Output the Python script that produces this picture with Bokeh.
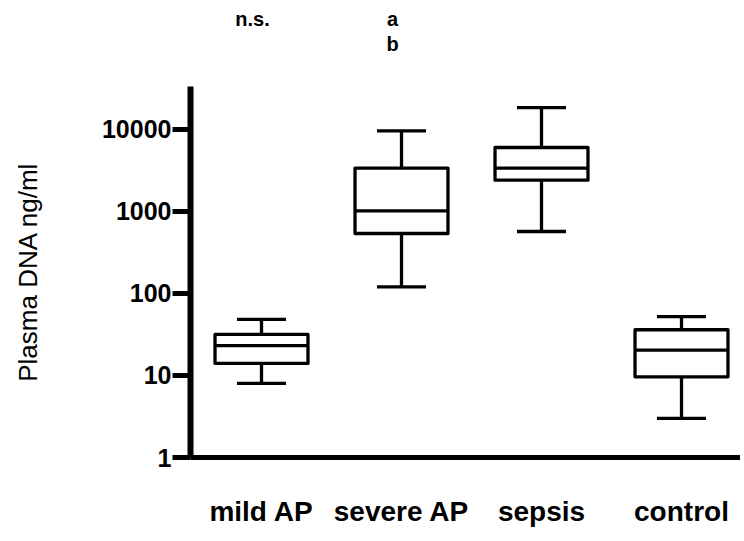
from bokeh.plotting import figure
from bokeh.layouts import column
from bokeh.models import FixedTicker, Range1d, ColumnDataSource
from bokeh.core.properties import value
from bokeh.embed import file_html
from bokeh.resources import INLINE

# ---- data ----
groups = ["mild AP", "severe AP", "sepsis", "control"]
lower_whisker = [8.0, 120.0, 566.0, 3.0]
q1 = [14.0, 535.0, 2390.0, 9.6]
median = [23.0, 1010.0, 3350.0, 20.3]
q3 = [31.6, 3350.0, 5970.0, 36.0]
upper_whisker = [48.0, 9500.0, 18300.0, 52.0]
y_ticks = [1, 10, 100, 1000, 10000]
y_tick_labels = ["1", "10", "100", "1000", "10000"]
annotations = ["n.s.", "a", "b"]
annotation_group = [1, 2, 2]

# ---- layout constants ----
W, H = 740, 535
TOP_H = 86                 # strip above the axes holding the annotations
FRAME_LEFT = 190
PX_PER_DECADE = 82.1
annotation_from_top_px = [18, 18, 43]

xs = list(range(1, len(groups) + 1))
BOX_W = 0.664
CAP_W = 0.35
LW = 3.3
FONT = "Liberation Sans"

x_range = Range1d(1 - 71 / 140, 1 - 71 / 140 + (W - FRAME_LEFT) / 140)
FRAME_H = 457 - TOP_H
y_end = 10 ** (FRAME_H / PX_PER_DECADE)

src = ColumnDataSource(dict(
    x=xs, lo=lower_whisker, q1=q1, med=median, q3=q3, hi=upper_whisker,
    cl=[x - CAP_W / 2 for x in xs], cr=[x + CAP_W / 2 for x in xs],
    bl=[x - BOX_W / 2 for x in xs], br=[x + BOX_W / 2 for x in xs],
))

# ---- annotation strip ----
top = figure(width=W, height=TOP_H, x_range=x_range, y_range=Range1d(0, TOP_H),
             output_backend="svg", toolbar_location=None,
             min_border_left=FRAME_LEFT, min_border_right=0,
             min_border_top=0, min_border_bottom=0)
top.axis.visible = False
top.grid.visible = False
top.outline_line_color = None
top.text(x=annotation_group, y=[TOP_H - d for d in annotation_from_top_px],
         text=annotations, x_offset=-9,
         text_align="center", text_baseline="middle",
         text_font=value(FONT), text_font_style="bold", text_font_size="20px",
         text_color="black")

# ---- main plot ----
p = figure(width=W, height=H - TOP_H, y_axis_type="log",
           x_range=x_range, y_range=Range1d(1, y_end),
           output_backend="svg", toolbar_location=None,
           min_border_left=FRAME_LEFT, min_border_right=0, min_border_top=0,
           min_border_bottom=H - 457)
p.outline_line_color = None
p.grid.visible = False
p.background_fill_color = "white"
p.border_fill_color = "white"

# whiskers
p.segment(x0="x", y0="q3", x1="x", y1="hi", source=src, line_color="black", line_width=LW)
p.segment(x0="x", y0="lo", x1="x", y1="q1", source=src, line_color="black", line_width=LW)
# caps
p.segment(x0="cl", y0="hi", x1="cr", y1="hi", source=src, line_color="black", line_width=LW)
p.segment(x0="cl", y0="lo", x1="cr", y1="lo", source=src, line_color="black", line_width=LW)
# boxes
p.vbar(x="x", width=BOX_W, bottom="q1", top="q3", source=src,
       fill_color="white", line_color="black", line_width=LW, line_join="round")
# medians
p.segment(x0="bl", y0="med", x1="br", y1="med", source=src, line_color="black", line_width=LW)

# y axis
ya = p.yaxis[0]
ya.ticker = FixedTicker(ticks=y_ticks, minor_ticks=[])
ya.major_label_overrides = {t: l for t, l in zip(y_ticks, y_tick_labels)}
ya.axis_line_width = 6
ya.major_tick_line_width = 5
ya.major_tick_out = 18
ya.major_tick_in = 0
ya.minor_tick_out = 0
ya.minor_tick_in = 0
ya.major_label_standoff = 1
ya.major_label_text_font = FONT
ya.major_label_text_font_style = "bold"
ya.major_label_text_font_size = "25px"
ya.major_label_text_color = "black"
ya.axis_label = "Plasma DNA ng/ml"
ya.axis_label_text_font = FONT
ya.axis_label_text_font_style = "normal"
ya.axis_label_text_font_size = "26px"
ya.axis_label_text_color = "black"
ya.axis_label_standoff = 56

# x axis
xa = p.xaxis[0]
xa.ticker = FixedTicker(ticks=xs, minor_ticks=[])
xa.major_label_overrides = {x: g for x, g in zip(xs, groups)}
xa.axis_line_width = 5
xa.major_tick_out = 0
xa.major_tick_in = 0
xa.minor_tick_out = 0
xa.minor_tick_in = 0
xa.major_label_standoff = 38
xa.major_label_text_font = FONT
xa.major_label_text_font_style = "bold"
xa.major_label_text_font_size = "28px"
xa.major_label_text_color = "black"

layout = column(top, p, spacing=0)
open("out.html", "w").write(file_html(layout, INLINE))
